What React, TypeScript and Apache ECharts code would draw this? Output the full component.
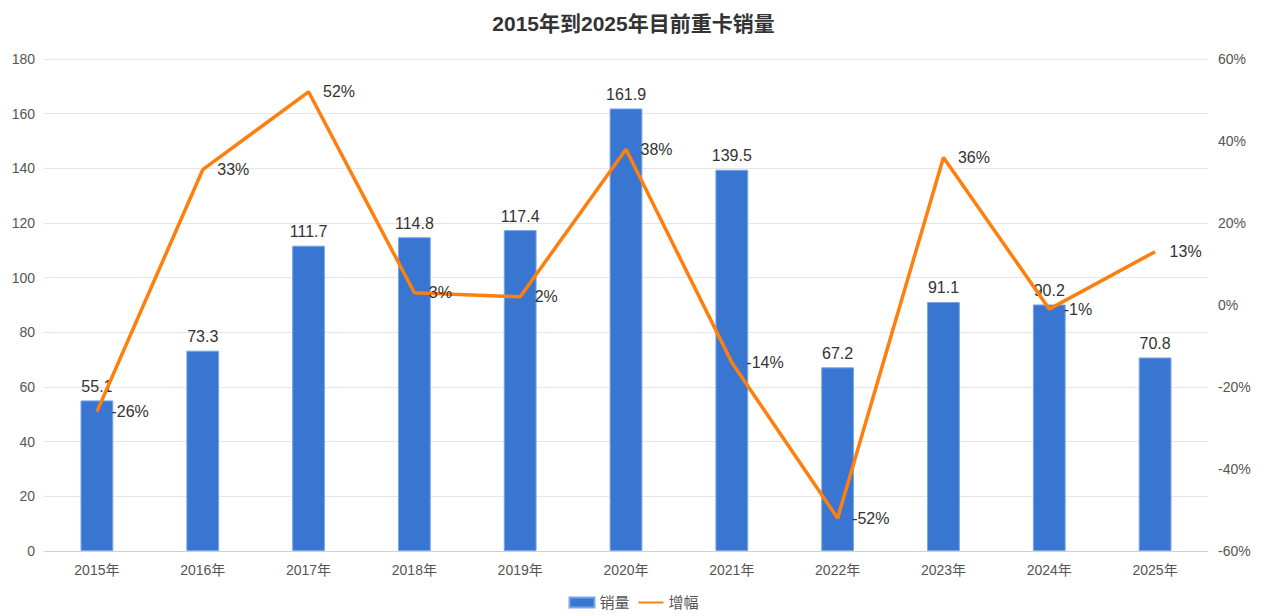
import * as echarts from 'echarts';
import { useEffect, useRef } from 'react';

const years = ['2015年', '2016年', '2017年', '2018年', '2019年', '2020年', '2021年', '2022年', '2023年', '2024年', '2025年'];
const sales = [55.1, 73.3, 111.7, 114.8, 117.4, 161.9, 139.5, 67.2, 91.1, 90.2, 70.8];
const growth = [-26, 33, 52, 3, 2, 38, -14, -52, 36, -1, 13];

const FONT = '"Liberation Sans", "Noto Sans CJK SC", sans-serif';

const App = () => {
  const chartRef = useRef<HTMLDivElement>(null);

  useEffect(() => {
    if (!chartRef.current) return;
    const chart = echarts.init(chartRef.current, null, { renderer: 'svg' });

    const option: echarts.EChartsOption = {
      animation: false,
      backgroundColor: '#fff',
      textStyle: { fontFamily: FONT },
      title: {
        text: '2015年到2025年目前重卡销量',
        left: 'center',
        top: 8,
        textStyle: { color: '#333', fontSize: 21, fontWeight: 'bold', fontFamily: FONT },
      },
      legend: {
        bottom: 1,
        left: 'center',
        itemWidth: 25,
        itemHeight: 10,
        itemGap: 8,
        textStyle: { color: '#555', fontSize: 15 },
        data: [
          { name: '销量', icon: 'rect' },
          { name: '增幅', itemStyle: { opacity: 0 } },
        ],
      },
      grid: { left: 44, right: 59, top: 59, bottom: 65 },
      xAxis: {
        type: 'category',
        data: years,
        axisTick: { show: false },
        axisLine: { lineStyle: { color: '#d0d0d0' } },
        axisLabel: { color: '#555', fontSize: 14, margin: 12 },
      },
      yAxis: [
        {
          type: 'value',
          min: 0,
          max: 180,
          interval: 20,
          axisLine: { show: false },
          axisTick: { show: false },
          axisLabel: { color: '#555', fontSize: 14, margin: 9 },
          splitLine: { lineStyle: { color: '#e6e6e6' } },
        },
        {
          type: 'value',
          min: -60,
          max: 60,
          interval: 20,
          axisLine: { show: false },
          axisTick: { show: false },
          axisLabel: { color: '#555', fontSize: 14, margin: 10, formatter: '{value}%' },
          splitLine: { show: false },
        },
      ],
      series: [
        {
          name: '销量',
          type: 'bar',
          data: sales,
          barWidth: '31%',
          itemStyle: { color: '#3876d1', borderColor: '#7aa6e6', borderWidth: 1 },
          label: { show: true, position: 'top', color: '#333', fontSize: 16, distance: 6 },
        },
        {
          name: '增幅',
          type: 'line',
          yAxisIndex: 1,
          data: growth,
          symbol: 'none',
          lineStyle: { color: '#ff7f0e', width: 3.5 },
          itemStyle: { color: '#ff7f0e' },
          z: 5,
        },
        {
          // 折线数据标签
          name: '增幅标签',
          type: 'scatter',
          yAxisIndex: 1,
          data: growth,
          symbolSize: 1,
          itemStyle: { color: 'transparent', opacity: 1 },
          label: {
            show: true,
            position: 'right',
            distance: 14,
            color: '#333',
            fontSize: 16,
            formatter: '{c}%',
          },
          z: 6,
          silent: true,
        },
      ],
    };

    chart.setOption(option);
    return () => {
      chart.dispose();
    };
  }, []);

  return (
    <div
      ref={chartRef}
      style={{ position: 'fixed', left: 0, top: 0, width: 1267, height: 616 }}
    />
  );
};

export default App;
